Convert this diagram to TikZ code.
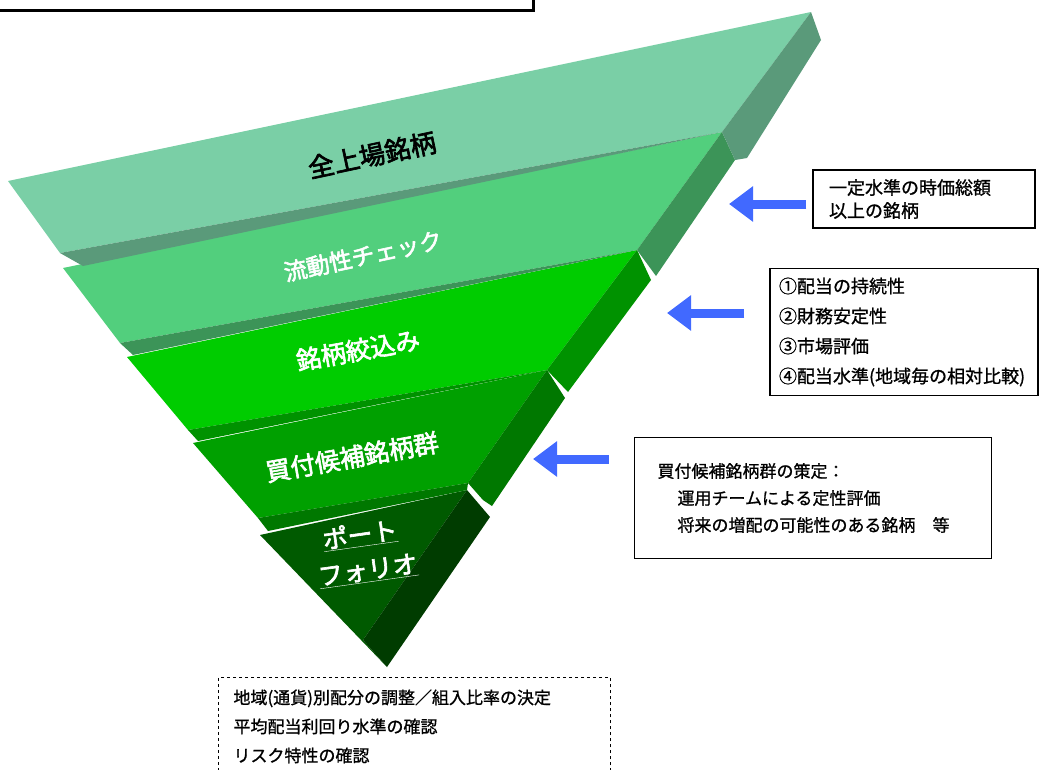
\documentclass[tikz,border=0pt]{standalone}
\usepackage{fontspec}
\setmainfont{Noto Sans CJK JP}
\newfontfamily\jpbold[FakeBold=2.5]{Noto Sans CJK JP}
\newfontfamily\jpsemi[FakeBold=1]{Noto Sans CJK JP}
\usetikzlibrary{arrows.meta}
%% layer colours
\definecolor{lyrAtop}{HTML}{7ACFA6}
\definecolor{lyrAside}{HTML}{5A9A7A}
\definecolor{lyrBtop}{HTML}{52CF7D}
\definecolor{lyrBside}{HTML}{3C9458}
\definecolor{lyrCtop}{HTML}{00CC00}
\definecolor{lyrCside}{HTML}{009200}
\definecolor{lyrDtop}{HTML}{00A000}
\definecolor{lyrDside}{HTML}{007800}
\definecolor{lyrEtop}{HTML}{005A00}
\definecolor{lyrEside}{HTML}{003C00}
\definecolor{arrowblue}{HTML}{4169FF}
\tikzset{
  infobox/.style={draw,line width=1.2pt,align=left,inner ysep=4pt},
  lyrlabel/.style={text=white,inner sep=0pt},
  bluearrow/.style={draw=arrowblue,line width=9pt,-{Triangle[length=24pt,width=34pt]}}
}
\begin{document}
\begin{tikzpicture}[x=1pt,y=-1pt]
    \useasboundingbox (0,0) rectangle (1039,769);
    %% Top left box (cut off)
    \draw[line width=3pt] (-10,-10) rectangle (533,10);
    %% Layer 5: portfolio
    \fill[lyrEtop] (260,535) -- (467,490) -- (363,640) -- (387,667) -- cycle;
    \fill[lyrEside] (467,490) -- (490,517) -- (387,667) -- (363,640) -- cycle;
    %% Layer 4
    \fill[lyrDtop] (193,443) -- (547,370) -- (468,483) -- (258,518) -- cycle;
    \fill[lyrDside] (258,518) -- (468,483) -- (467,490) -- (268,531) -- cycle;
    \fill[lyrDside] (547,370) -- (565,398) -- (492,506) -- (483,500) -- (468,483) -- cycle;
    %% Layer 3
    \fill[lyrCtop] (127,357) -- (637,250) -- (547,370) -- (188,430) -- cycle;
    \fill[lyrCside] (188,430) -- (547,370) -- (198,441) -- cycle;
    \fill[lyrCside] (637,250) -- (651,280) -- (568,392) -- (547,370) -- cycle;
    %% Layer 2
    \fill[lyrBtop] (63,268) -- (722,132) -- (637,250) -- (120,343) -- cycle;
    \fill[lyrBside] (120,343) -- (637,250) -- (133,355) -- cycle;
    \fill[lyrBside] (722,132) -- (735,160) -- (656,276) -- (637,250) -- cycle;
    %% Layer 1
    \fill[lyrAtop] (8,181) -- (811,12) -- (722,132) -- (60,253) -- cycle;
    \fill[lyrAside] (60,253) -- (722,132) -- (83,266) -- cycle;
    \fill[lyrAside] (811,12) -- (821,40) -- (747,158) -- (735,160) -- (722,132) -- cycle;
    %% Layer labels
    \node[lyrlabel,text=black,rotate=12,font=\jpbold\fontsize{26}{30}\selectfont] (all) at (372,155) {全上場銘柄};
    \node[lyrlabel,rotate=12,font=\jpbold\fontsize{23}{28}\selectfont] (liq) at (363,256) {流動性チェック};
    \node[lyrlabel,rotate=10,font=\jpbold\fontsize{25}{30}\selectfont] (narrow) at (358,350) {銘柄絞込み};
    \node[lyrlabel,rotate=10,font=\jpbold\fontsize{25}{30}\selectfont] (cand) at (352,457) {買付候補銘柄群};
    \node[lyrlabel,rotate=8,font=\jpbold\fontsize{25}{30}\selectfont] (port) at (360,535) {\underline{ポート}};
    \node[lyrlabel,rotate=8,font=\jpbold\fontsize{25}{30}\selectfont] (folio) at (368,571) {\underline{フォリオ}};
    %% Boxes
    \node[infobox,text width=190pt,inner xsep=16pt,minimum height=58pt,font=\jpsemi\fontsize{18}{23}\selectfont] (cap) at (924,199)
        {一定水準の時価総額\\以上の銘柄};
    \node[infobox,text width=250pt,inner xsep=9pt,minimum height=127pt,font=\jpsemi\fontsize{18}{30}\selectfont] (crit) at (904,332)
        {①配当の持続性\\②財務安定性\\③市場評価\\④配当水準(地域毎の相対比較)};
    \node[infobox,text width=311pt,inner xsep=23pt,minimum height=121pt,font=\jpsemi\fontsize{17}{27}\selectfont] (select) at (813,498)
        {買付候補銘柄群の策定：\\\hspace*{20pt}運用チームによる定性評価\\\hspace*{20pt}将来の増配の可能性のある銘柄　等};
    \node[infobox,dashed,line width=1pt,anchor=north west,text width=362pt,inner xsep=15pt,inner ysep=12pt,font=\jpsemi\fontsize{17}{29}\selectfont] (alloc) at (218,677)
        {地域(通貨)別配分の調整／組入比率の決定\\平均配当利回り水準の確認\\リスク特性の確認};
    %% Arrows
    \coordinate (tipA) at (729,204);
    \coordinate (tipB) at (667,313);
    \coordinate (tipC) at (533,459);
    \draw[bluearrow,shorten <=6pt] (tipA -| cap.west) -- (tipA);
    \draw[bluearrow,shorten <=25pt] (tipB -| crit.west) -- (tipB);
    \draw[bluearrow,shorten <=25pt] (tipC -| select.west) -- (tipC);
\end{tikzpicture}
\end{document}
